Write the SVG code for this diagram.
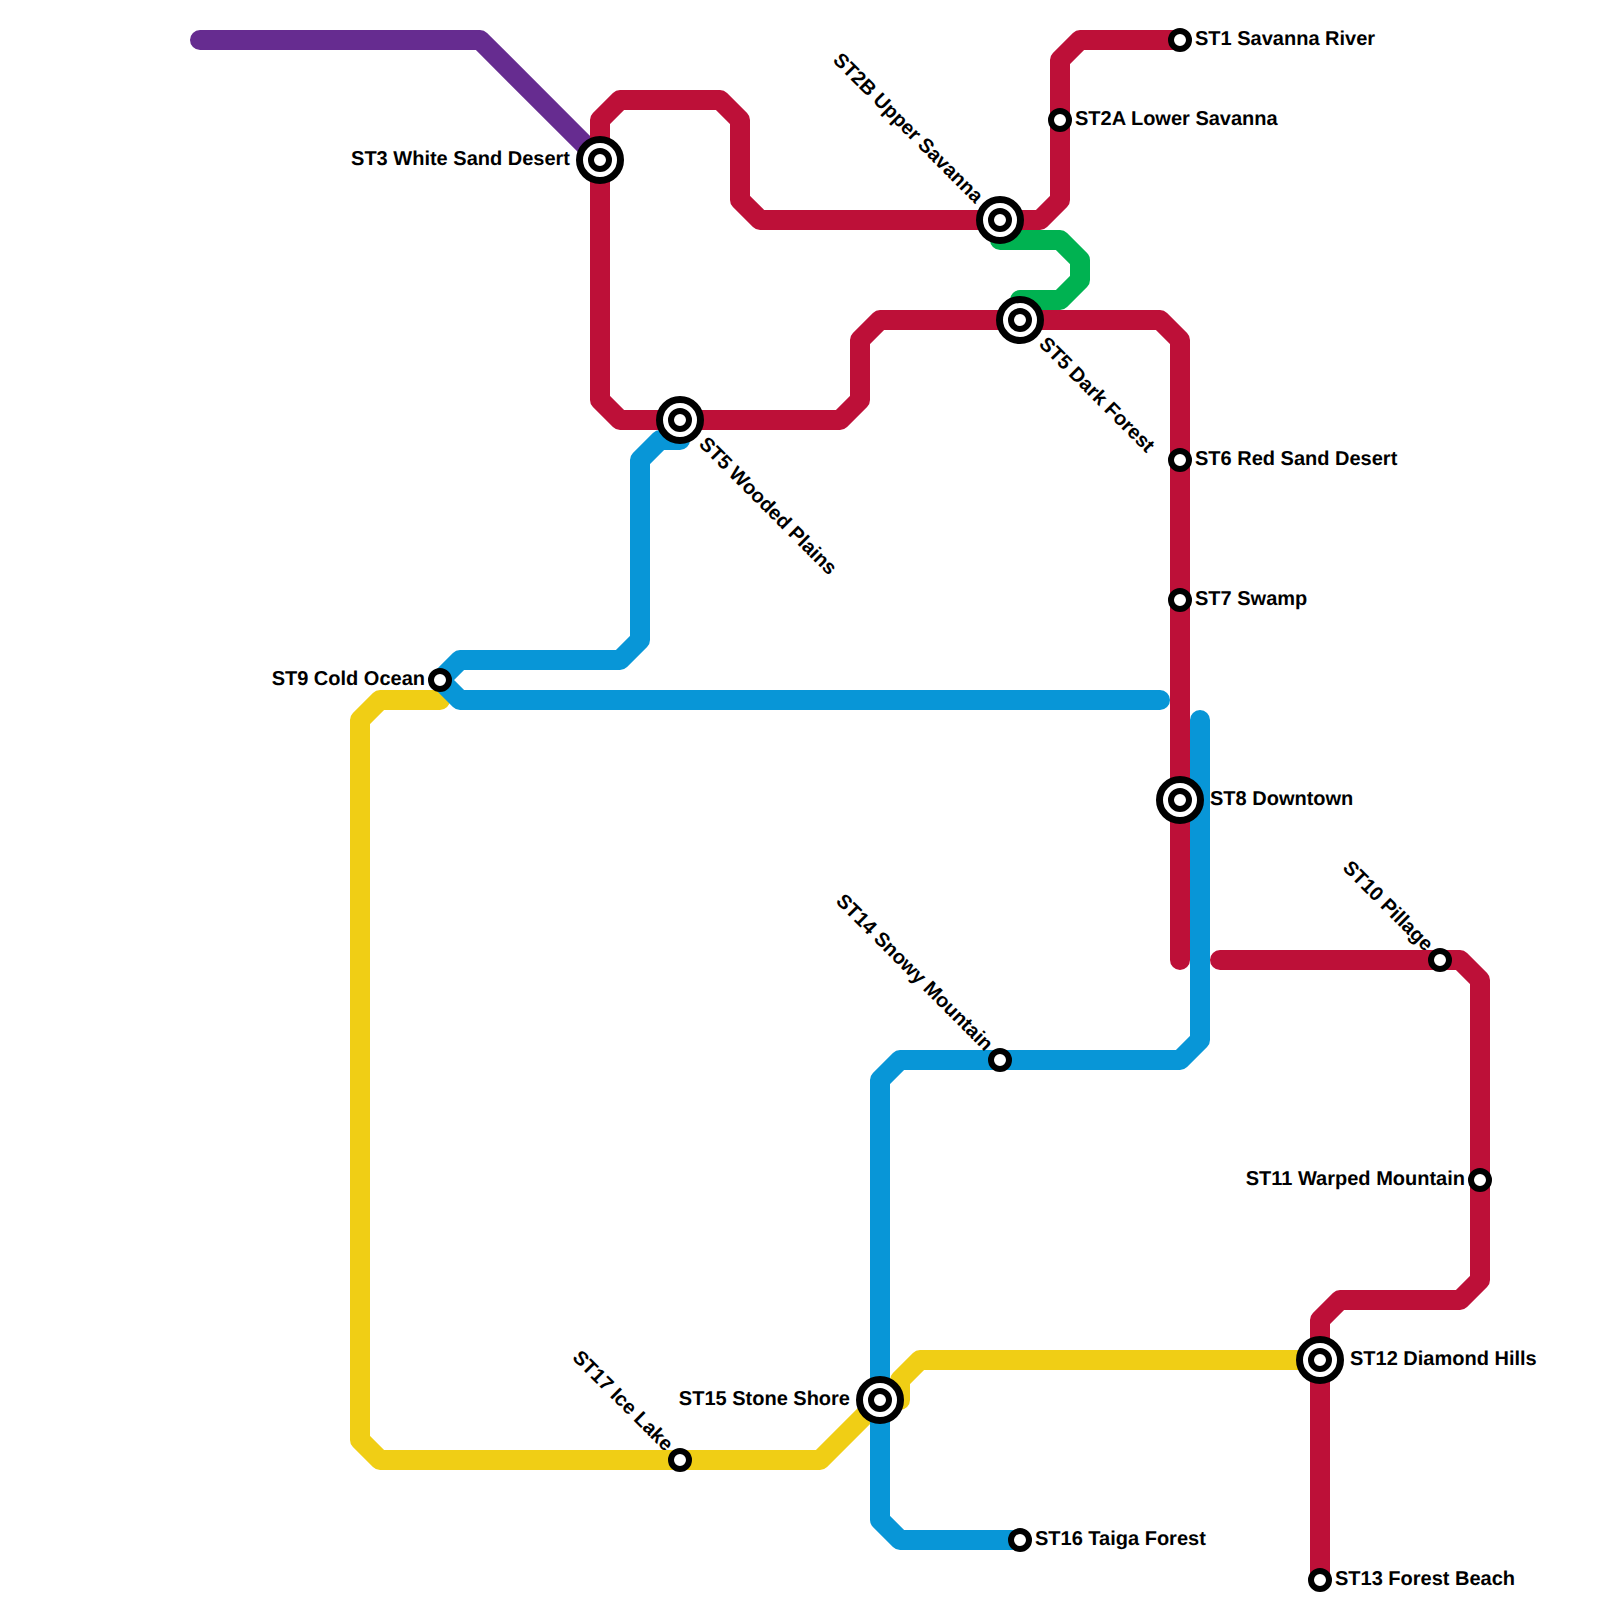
<svg xmlns="http://www.w3.org/2000/svg" width="1600" height="1600" viewBox="0 0 1600 1600">
<style>
.l{fill:none;stroke-width:20;stroke-linecap:round;stroke-linejoin:round}
.purple{stroke:#662c90}.red{stroke:#bd1038}.blue{stroke:#0896d7}.yellow{stroke:#f0ce15}.green{stroke:#00b251}
.o,.i{fill:#fff;stroke:#000}
.o{stroke-width:7}.i{stroke-width:6}
text{font-family:"Liberation Sans",Arial,sans-serif;font-size:20px;font-weight:700;fill:#000;text-rendering:geometricPrecision}
.e{text-anchor:end}
</style>
<defs>
<g id="big"><circle class="o" r="20.5"/><circle class="i" r="9"/></g>
<circle id="small" class="i" r="9"/>
</defs>
<g id="connectors">
<path class="l purple" d="M200 40H480L600 160"/>
<path class="l yellow" d="M440 700H380L360 720V1440L380 1460H820L880 1400"/>
<path class="l yellow" d="M1320 1360H920L900 1380V1400"/>
<path class="l blue" d="M680 440H660L640 460V640L620 660H460L440 680L460 700H1160"/>
<path class="l blue" d="M1200 720V1040L1180 1060H900L880 1080V1520L900 1540H1020"/>
<path class="l green" d="M1000 240H1060L1080 260V280L1060 300H1020"/>
<path class="l red" d="M1180 40H1080L1060 60V200L1040 220H760L740 200V120L720 100H620L600 120V400L620 420H840L860 400V340L880 320H1160L1180 340V960"/>
<path class="l red" d="M1220 960H1460L1480 980V1280L1460 1300H1340L1320 1320V1580"/>
</g>
<g id="st1"><use href="#small" x="1180" y="40"/><text x="1195" y="45">ST1 Savanna River</text></g>
<g id="st2a"><use href="#small" x="1060" y="120"/><text x="1075" y="125">ST2A Lower Savanna</text></g>
<g id="st2b"><use href="#big" x="1000" y="220"/><text class="e" transform="translate(975 204) rotate(45)">ST2B Upper Savanna</text></g>
<g id="st3"><use href="#big" x="600" y="160"/><text class="e" x="570" y="165">ST3 White Sand Desert</text></g>
<g id="st5-dark"><use href="#big" x="1020" y="320"/><text transform="translate(1038 345) rotate(45)">ST5 Dark Forest</text></g>
<g id="st5-wooded"><use href="#big" x="680" y="420"/><text transform="translate(698 445) rotate(45)">ST5 Wooded Plains</text></g>
<g id="st6"><use href="#small" x="1180" y="460"/><text x="1195" y="465">ST6 Red Sand Desert</text></g>
<g id="st7"><use href="#small" x="1180" y="600"/><text x="1195" y="605">ST7 Swamp</text></g>
<g id="st8"><use href="#big" x="1180" y="800"/><text x="1210" y="805">ST8 Downtown</text></g>
<g id="st9"><use href="#small" x="440" y="680"/><text class="e" x="425" y="685">ST9 Cold Ocean</text></g>
<g id="st10"><use href="#small" x="1440" y="960"/><text class="e" transform="translate(1425 952) rotate(45)">ST10 Pillage</text></g>
<g id="st11"><use href="#small" x="1480" y="1180"/><text class="e" x="1465" y="1185">ST11 Warped Mountain</text></g>
<g id="st12"><use href="#big" x="1320" y="1360"/><text x="1350" y="1365">ST12 Diamond Hills</text></g>
<g id="st13"><use href="#small" x="1320" y="1580"/><text x="1335" y="1585">ST13 Forest Beach</text></g>
<g id="st14"><use href="#small" x="1000" y="1060"/><text class="e" transform="translate(985 1052) rotate(45)">ST14 Snowy Mountain</text></g>
<g id="st15"><use href="#big" x="880" y="1400"/><text class="e" x="850" y="1405">ST15 Stone Shore</text></g>
<g id="st16"><use href="#small" x="1020" y="1540"/><text x="1035" y="1545">ST16 Taiga Forest</text></g>
<g id="st17"><use href="#small" x="680" y="1460"/><text class="e" transform="translate(665 1452) rotate(45)">ST17 Ice Lake</text></g>
</svg>
